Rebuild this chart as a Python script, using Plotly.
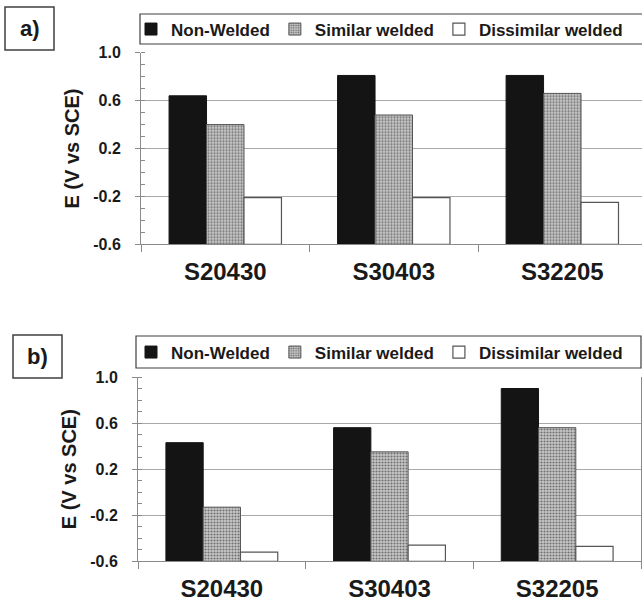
import plotly.graph_objects as go

# ---------------- data ----------------
categories = ["S20430", "S30403", "S32205"]
series_names = ["Non-Welded", "Similar welded", "Dissimilar welded"]

a_non_welded = [0.64, 0.81, 0.81]
a_similar = [0.40, 0.48, 0.66]
a_dissimilar = [-0.21, -0.21, -0.25]

b_non_welded = [0.43, 0.56, 0.90]
b_similar = [-0.13, 0.35, 0.56]
b_dissimilar = [-0.52, -0.46, -0.47]

y_tickvals = [-0.6, -0.2, 0.2, 0.6, 1.0]
y_ticktext = ["-0.6", "-0.2", "0.2", "0.6", "1.0"]
Y_MIN, Y_MAX = -0.6, 1.0
panel_labels = ["a)", "b)"]
y_title = "E (V vs SCE)"

# ---------------- styling ----------------
W, H = 642, 601
FONT = "Arial, Liberation Sans, sans-serif"
TXT = "#1a1a1a"
GRID = "#a9a9a9"
AX = "#8a8a8a"

def px_x(p):
    return p / W

def px_y(p):
    return 1 - p / H

styles = [
    dict(color="#141414", line=dict(color="#141414", width=1)),
    dict(color="#c3c3c3", line=dict(color="#555555", width=1),
         pattern=dict(shape=".", bgcolor="#c8c8c8", fgcolor="#707070", size=3, solidity=0.4)),
    dict(color="#ffffff", line=dict(color="#555555", width=1.2)),
]

fig = go.Figure()

panels = [
    ("x", "y", "legend", [a_non_welded, a_similar, a_dissimilar]),
    ("x2", "y2", "legend2", [b_non_welded, b_similar, b_dissimilar]),
]
for xa, ya, lg, series in panels:
    for name, vals, st in zip(series_names, series, styles):
        fig.add_trace(go.Bar(
            x=categories,
            y=[v - Y_MIN for v in vals],
            base=Y_MIN,
            customdata=vals,
            hovertemplate="%{x}: %{customdata}<extra>" + name + "</extra>",
            name=name,
            marker=st,
            xaxis=xa, yaxis=ya, legend=lg,
        ))

xaxis_common = dict(
    type="category", automargin=False,
    showline=True, linecolor=AX, linewidth=1,
    ticks="outside", tickson="boundaries", ticklen=7, tickcolor=AX,
    showgrid=False,
    tickfont=dict(family=FONT, size=24, color=TXT, weight="bold"),
    ticklabelstandoff=6,
)
yaxis_common = dict(
    range=[Y_MIN, Y_MAX], automargin=False,
    tickvals=y_tickvals, ticktext=y_ticktext,
    showline=True, linecolor=AX, linewidth=1,
    ticks="outside", ticklen=5, tickcolor=AX,
    showgrid=True, gridcolor=GRID, gridwidth=1,
    zeroline=False,
    minor=dict(dtick=0.1, tick0=0, ticks="inside", ticklen=4, tickcolor=AX, showgrid=False),
    tickfont=dict(family=FONT, size=16, color=TXT, weight="bold"),
    ticklabelstandoff=11,
    title=dict(text=y_title, font=dict(family=FONT, size=20, color=TXT, weight="bold"), standoff=8),
)

legend_common = dict(orientation="h", xanchor="left", yanchor="middle",
                     itemwidth=30, bgcolor="rgba(0,0,0,0)", borderwidth=0,
                     font=dict(family=FONT, size=17, color=TXT, weight="bold"))

fig.update_layout(
    width=W, height=H,
    template="none",
    margin=dict(l=0, r=0, t=0, b=0, autoexpand=False),
    paper_bgcolor="white", plot_bgcolor="white",
    barmode="group", bargap=0.333, bargroupgap=0,
    showlegend=True,
    xaxis=dict(xaxis_common, domain=[px_x(141), 1.0], range=[-0.5, 2.473], anchor="y"),
    yaxis=dict(yaxis_common, domain=[px_y(244.3), px_y(52.7)], anchor="x"),
    xaxis2=dict(xaxis_common, domain=[px_x(138), px_x(641)], range=[-0.5, 2.5], anchor="y2"),
    yaxis2=dict(yaxis_common, domain=[px_y(561.3), px_y(377)], anchor="x2", mirror=True),
    legend=dict(legend_common, x=px_x(131), y=px_y(29.5)),
    legend2=dict(legend_common, x=px_x(131), y=px_y(352.5)),
)

# legend frames and panel-label boxes
fig.add_shape(type="rect", xref="paper", yref="paper",
              x0=px_x(140), x1=px_x(645), y0=px_y(44), y1=px_y(14),
              line=dict(color="#404040", width=1.2), fillcolor="rgba(0,0,0,0)")
fig.add_shape(type="rect", xref="paper", yref="paper",
              x0=px_x(136), x1=px_x(641), y0=px_y(368), y1=px_y(336),
              line=dict(color="#404040", width=1.2), fillcolor="rgba(0,0,0,0)")

for lab, (x0, x1, y0, y1) in zip(panel_labels, [(5, 54, 7, 50), (13, 62, 335, 378)]):
    fig.add_shape(type="rect", xref="paper", yref="paper",
                  x0=px_x(x0), x1=px_x(x1), y0=px_y(y1), y1=px_y(y0),
                  line=dict(color="#404040", width=1.5), fillcolor="white")
    fig.add_annotation(text=lab, xref="paper", yref="paper",
                       x=px_x((x0 + x1) / 2), y=px_y((y0 + y1) / 2),
                       xanchor="center", yanchor="middle", showarrow=False,
                       font=dict(family=FONT, size=22, color=TXT, weight="bold"))

fig.write_html("out.html")
